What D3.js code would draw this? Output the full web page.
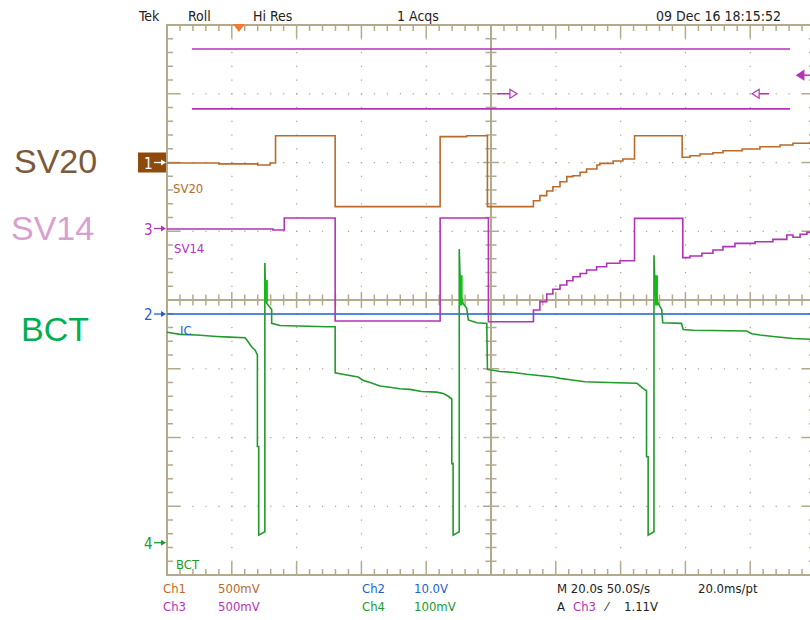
<!DOCTYPE html>
<html>
<head>
<meta charset="utf-8">
<script src="https://cdn.jsdelivr.net/npm/d3@7/dist/d3.min.js"></script>
<style>
body { margin: 0; background: #fff; }
text { font-family: "Liberation Sans Narrow", "DejaVu Sans Condensed", "Liberation Sans", sans-serif; font-stretch: condensed; }
.big { font-family: "Liberation Sans", Arial, sans-serif; font-stretch: normal; font-size: 34px; }
</style>
</head>
<body>
<div id="scope"></div>
<script>
// Scope settings: M 20.0s -> 10 divisions of 20 s, 8 vertical divisions
var timeDomain = [0, 200];
var divDomain = [-4, 4];

// channel ground markers (divisions) and volts per division
var ch1 = { pos: 2.0, vdiv: 0.5 };
var ch2 = { pos: -0.204, vdiv: 10 };
var ch3 = { pos: 1.04, vdiv: 0.5 };
var ch4 = { pos: -3.53, vdiv: 0.1 };

// SV20 (Ch1) steps [s, V]
var sv20Steps = [[0, -0.004], [16, -0.010], [28, -0.018], [31.8, -0.004], [33.5, 0.195], [51.9, -0.321],
    [84.3, 0.188], [92.5, 0.195], [98.9, -0.321], [113.1, -0.278], [115.1, -0.241], [117.2, -0.207],
    [119.1, -0.176], [121.3, -0.140], [123.4, -0.103], [125.3, -0.096], [127.5, -0.071], [129.5, -0.047],
    [132.7, -0.018], [133.6, -0.006], [137.7, 0.011], [140.7, 0.025], [144.3, 0.195], [159.0, 0.038],
    [161.4, 0.049], [164.5, 0.062], [168.5, 0.071], [171.6, 0.086], [177.5, 0.098], [183.0, 0.115],
    [189.2, 0.127], [193.2, 0.140], [198.5, 0.147], [200, 0.147]];

// SV14 (Ch3) steps [s, V]
var sv14Steps = [[0, -0.004], [32.7, -0.011], [36.2, 0.076], [51.9, -0.673], [84.3, 0.076], [99.2, -0.678],
    [113.1, -0.593], [115.1, -0.532], [117.2, -0.476], [119.1, -0.442], [121.3, -0.411], [123.4, -0.380],
    [125.3, -0.351], [127.5, -0.327], [129.5, -0.302], [132.6, -0.278], [135.7, -0.253], [139.8, -0.234],
    [144.3, 0.074], [159.2, -0.212], [161.4, -0.200], [165.1, -0.180], [168.5, -0.156], [171.6, -0.132],
    [175.3, -0.108], [181.5, -0.096], [187, -0.079], [191.3, -0.047], [193.2, -0.064], [195.4, -0.042],
    [197.5, -0.028], [200, -0.028]];

// IC (Ch2) [s, V]
var icPoints = [[0, 0], [200, 0]];

// BCT (Ch4) [s, V]
var bctPoints = [[0, 0.306], [4, 0.303], [9.2, 0.302], [15.3, 0.300], [19.4, 0.299], [24.1, 0.298],
    [25.1, 0.292], [26.1, 0.285], [27.2, 0.280], [27.9, 0.273], [27.9, 0.140], [28.3, 0.140], [28.3, 0.011],
    [30.2, 0.016], [30.2, 0.407], [30.4, 0.360], [30.8, 0.348], [32.3, 0.339], [32.3, 0.319], [34.9, 0.316],
    [49.3, 0.314], [51.9, 0.314], [51.9, 0.247], [55.5, 0.244], [59.0, 0.241], [60.6, 0.236], [62.7, 0.233],
    [65.7, 0.228], [68.8, 0.226], [71.9, 0.224], [75.0, 0.223], [78.6, 0.220], [83.2, 0.219], [85.3, 0.217],
    [86.8, 0.213], [87.9, 0.209], [87.9, 0.115], [88.3, 0.115], [88.3, 0.011], [90.2, 0.016], [90.2, 0.427],
    [90.6, 0.360], [91.4, 0.348], [92.5, 0.341], [93.0, 0.324], [95.6, 0.320], [98.7, 0.319], [98.9, 0.252],
    [102.8, 0.249], [106.4, 0.248], [111.0, 0.245], [119.2, 0.241], [121.3, 0.239], [124.4, 0.237],
    [129.0, 0.234], [136.2, 0.233], [145.0, 0.232], [146.0, 0.228], [147.0, 0.224], [148.0, 0.221],
    [148.0, 0.125], [148.5, 0.125], [148.5, 0.011], [150.3, 0.016], [150.3, 0.418], [150.7, 0.360],
    [151.6, 0.348], [152.7, 0.339], [153.0, 0.320], [158.8, 0.319], [159.3, 0.310], [162.4, 0.309],
    [178.9, 0.308], [180.5, 0.304], [183.0, 0.302], [187.1, 0.300], [193.3, 0.297], [198.5, 0.296], [200, 0.296]];

// noisy bursts right after each BCT spike [s, Vhigh, Vlow]
var bctBursts = [[30.6, 0.382, 0.350], [90.7, 0.389, 0.345], [151.0, 0.389, 0.345]];

// horizontal cursors (divisions) and their time extent
var cursorLevels = [3.65, 2.78];
var cursorSpan = [7.7, 192.3];
// cursor arrows [tip s, tail s, divisions, hollow]
var cursorArrows = [[108.0, 101.9, 3.0, true], [180.6, 185.8, 3.0, true], [194.4, 198.5, 3.27, false]];
var triggerTime = 22.2;

var headerLabels = ["Tek", "Roll", "Hi Res", "1 Acqs", "09 Dec 16 18:15:52"];
var sideLabels = ["SV20", "SV14", "BCT"];
var traceLabels = ["SV20", "SV14", "IC", "BCT"];
var footerTop = ["Ch1", "500mV", "Ch2", "10.0V", "M 20.0s 50.0S/s", "20.0ms/pt"];
var footerBottom = ["Ch3", "500mV", "Ch4", "100mV", "A", "Ch3", "\u2044", "1.11V"];

var colors = {
    grid: "#b3a98c", dot: "#a89f86", ch1: "#b86b2a", ch1box: "#8e4a0c", ch2: "#1f5fd0",
    ch3: "#b033b8", ch4: "#229a2c", spike: "#10c010", text: "#222", trig: "#f07a30",
    sv20: "#7b5a3c", sv14: "#d7a0d2", bct: "#00b050"
};

var svgWidth = 810;
var svgHeight = 620;
var plot = { left: 167, top: 25, right: 815, bottom: 575 };

var svg = d3.select("#scope").append("svg")
    .attr("width", svgWidth)
    .attr("height", svgHeight);

var x = d3.scaleLinear().domain(timeDomain).range([plot.left, plot.right]);
var y = d3.scaleLinear().domain(divDomain).range([plot.bottom, plot.top]);

function chY(ch, v) { return y(ch.pos + v / ch.vdiv); }

var minorT = d3.range(0, 200.001, 4);
var majorT = d3.range(20, 181, 20);
var minorD = d3.range(-4, 4.001, 0.2);
var majorD = d3.range(-3, 3.5, 1);

// ---- graticule ----
var grid = svg.append("g");

// dotted grid on major lines
majorD.filter(d => d !== 0).forEach(function(d) {
    grid.selectAll(null).data(minorT.slice(1, -1)).enter().append("rect")
        .attr("x", t => x(t) - 0.5).attr("y", y(d) - 0.5)
        .attr("width", 1.2).attr("height", 1.2).attr("fill", colors.dot);
});
majorT.filter(t => t !== 100).forEach(function(t) {
    grid.selectAll(null).data(minorD.slice(1, -1)).enter().append("rect")
        .attr("x", x(t) - 0.5).attr("y", d => y(d) - 0.5)
        .attr("width", 1.2).attr("height", 1.2).attr("fill", colors.dot);
});

// frame
grid.append("rect")
    .attr("x", plot.left).attr("y", plot.top)
    .attr("width", plot.right - plot.left).attr("height", plot.bottom - plot.top)
    .attr("fill", "none").attr("stroke", colors.grid).attr("stroke-width", 2);

function isMajorT(t) { return Math.abs(t / 20 - Math.round(t / 20)) < 1e-6; }
function isMajorD(d) { return Math.abs(d - Math.round(d)) < 1e-6; }

// edge ticks (top and bottom)
minorT.slice(1, -1).forEach(function(t) {
    var len = isMajorT(t) ? 13 : 6;
    grid.append("line").attr("x1", x(t)).attr("x2", x(t))
        .attr("y1", plot.top).attr("y2", plot.top + len)
        .attr("stroke", colors.grid).attr("stroke-width", 1.5);
    grid.append("line").attr("x1", x(t)).attr("x2", x(t))
        .attr("y1", plot.bottom).attr("y2", plot.bottom - len)
        .attr("stroke", colors.grid).attr("stroke-width", 1.5);
    // center horizontal axis ticks
    var c = isMajorT(t) ? 8 : 5.5;
    grid.append("line").attr("x1", x(t)).attr("x2", x(t))
        .attr("y1", y(0) - c).attr("y2", y(0) + c)
        .attr("stroke", colors.grid).attr("stroke-width", 1.5);
});
// edge ticks (left and right)
minorD.slice(1, -1).forEach(function(d) {
    var len = isMajorD(d) ? 13 : 6;
    grid.append("line").attr("y1", y(d)).attr("y2", y(d))
        .attr("x1", plot.left).attr("x2", plot.left + len)
        .attr("stroke", colors.grid).attr("stroke-width", 1.5);
    grid.append("line").attr("y1", y(d)).attr("y2", y(d))
        .attr("x1", plot.right).attr("x2", plot.right - len)
        .attr("stroke", colors.grid).attr("stroke-width", 1.5);
    var c = isMajorD(d) ? 8 : 5.5;
    grid.append("line").attr("y1", y(d)).attr("y2", y(d))
        .attr("x1", x(100) - c).attr("x2", x(100) + c)
        .attr("stroke", colors.grid).attr("stroke-width", 1.5);
});

// center cross
grid.append("line").attr("x1", x(100)).attr("x2", x(100))
    .attr("y1", plot.top).attr("y2", plot.bottom)
    .attr("stroke", colors.grid).attr("stroke-width", 2);
grid.append("line").attr("x1", plot.left).attr("x2", plot.right)
    .attr("y1", y(0)).attr("y2", y(0))
    .attr("stroke", colors.grid).attr("stroke-width", 2);

// ---- cursors ----
cursorLevels.forEach(function(d) {
    svg.append("line")
        .attr("x1", x(cursorSpan[0])).attr("x2", x(cursorSpan[1]))
        .attr("y1", y(d)).attr("y2", y(d))
        .attr("stroke", colors.ch3).attr("stroke-width", 1.6);
});
cursorArrows.forEach(function(a) {
    var tip = x(a[0]), tail = x(a[1]), yy = y(a[2]);
    var dir = tip > tail ? 1 : -1;
    var base = tip - dir * 7;
    svg.append("line").attr("x1", tail).attr("x2", base).attr("y1", yy).attr("y2", yy)
        .attr("stroke", colors.ch3).attr("stroke-width", 1.5);
    svg.append("path")
        .attr("d", `M${tip},${yy} L${base},${yy - 4.5} L${base},${yy + 4.5} Z`)
        .attr("fill", a[3] ? "#fff" : colors.ch3)
        .attr("stroke", colors.ch3).attr("stroke-width", 1.2);
});

// trigger position marker
svg.append("path")
    .attr("d", `M${x(triggerTime) - 6},${plot.top - 1} L${x(triggerTime) + 6},${plot.top - 1} L${x(triggerTime)},${plot.top + 7} Z`)
    .attr("fill", colors.trig);

// ---- traces ----
var stepLine = function(ch) {
    return d3.line().x(d => x(d[0])).y(d => chY(ch, d[1])).curve(d3.curveStepAfter);
};
var plainLine = function(ch) {
    return d3.line().x(d => x(d[0])).y(d => chY(ch, d[1]));
};

svg.append("path").datum(icPoints).attr("d", plainLine(ch2))
    .attr("fill", "none").attr("stroke", colors.ch2).attr("stroke-width", 1.6);

svg.append("path").datum(bctPoints).attr("d", plainLine(ch4))
    .attr("fill", "none").attr("stroke", colors.ch4).attr("stroke-width", 1.6);

svg.selectAll(".burst").data(bctBursts).enter().append("line")
    .attr("class", "burst")
    .attr("x1", d => x(d[0])).attr("x2", d => x(d[0]))
    .attr("y1", d => chY(ch4, d[1])).attr("y2", d => chY(ch4, d[2]))
    .attr("stroke", colors.spike).attr("stroke-width", 3.5);

svg.append("path").datum(sv14Steps).attr("d", stepLine(ch3))
    .attr("fill", "none").attr("stroke", colors.ch3).attr("stroke-width", 1.6);

svg.append("path").datum(sv20Steps).attr("d", stepLine(ch1))
    .attr("fill", "none").attr("stroke", colors.ch1).attr("stroke-width", 1.6);

// ---- channel ground markers ----
function marker(ch, label, color, boxed) {
    var yy = y(ch.pos);
    if (boxed) {
        svg.append("rect").attr("x", plot.left - 29).attr("y", yy - 10)
            .attr("width", 28).attr("height", 20).attr("fill", colors.ch1box);
    }
    var c = boxed ? "#fff" : color;
    svg.append("text").attr("x", plot.left - 23).attr("y", yy + 6)
        .attr("font-size", 15).attr("fill", c).text(label);
    svg.append("line").attr("x1", plot.left - 13).attr("x2", plot.left - 5)
        .attr("y1", yy).attr("y2", yy).attr("stroke", c).attr("stroke-width", 1.3);
    svg.append("path")
        .attr("d", `M${plot.left - 1},${yy} L${plot.left - 6},${yy - 3} L${plot.left - 6},${yy + 3} Z`)
        .attr("fill", c);
}
marker(ch1, "1", colors.ch1, true);
marker(ch3, "3", colors.ch3, false);
marker(ch2, "2", colors.ch2, false);
marker(ch4, "4", colors.ch4, false);

// labels inside the screen
var traceLabelPos = [[173, 193, colors.ch1], [174, 253, colors.ch3], [180, 335, colors.ch2], [176, 569, colors.ch4]];
svg.selectAll(".tlabel").data(traceLabels).enter().append("text")
    .attr("class", "tlabel")
    .attr("x", (d, i) => traceLabelPos[i][0])
    .attr("y", (d, i) => traceLabelPos[i][1])
    .attr("font-size", 13)
    .attr("fill", (d, i) => traceLabelPos[i][2])
    .text(d => d);

// big side labels
var sidePos = [[14, 173, colors.sv20], [11, 240, colors.sv14], [21, 341, colors.bct]];
svg.selectAll(".big").data(sideLabels).enter().append("text")
    .attr("class", "big")
    .attr("x", (d, i) => sidePos[i][0])
    .attr("y", (d, i) => sidePos[i][1])
    .attr("fill", (d, i) => sidePos[i][2])
    .text(d => d);

// header
var headerX = [139, 188, 253, 397, 656];
svg.selectAll(".head").data(headerLabels).enter().append("text")
    .attr("class", "head")
    .attr("x", (d, i) => headerX[i]).attr("y", 21)
    .attr("font-size", 14).attr("fill", colors.text)
    .text(d => d);

// footer
var footTopX = [163, 218, 362, 414, 557, 698];
var footTopC = [colors.ch1, colors.ch1, colors.ch2, colors.ch2, colors.text, colors.text];
svg.selectAll(".ft").data(footerTop).enter().append("text")
    .attr("class", "ft")
    .attr("x", (d, i) => footTopX[i]).attr("y", 593)
    .attr("font-size", 13).attr("fill", (d, i) => footTopC[i])
    .text(d => d);

var footBotX = [163, 218, 362, 414, 557, 573, 606, 624];
var footBotC = [colors.ch3, colors.ch3, colors.ch4, colors.ch4, colors.text, colors.ch3, colors.text, colors.text];
svg.selectAll(".fb").data(footerBottom).enter().append("text")
    .attr("class", "fb")
    .attr("x", (d, i) => footBotX[i]).attr("y", 611)
    .attr("font-size", 13).attr("fill", (d, i) => footBotC[i])
    .text(d => d);
</script>
</body>
</html>
